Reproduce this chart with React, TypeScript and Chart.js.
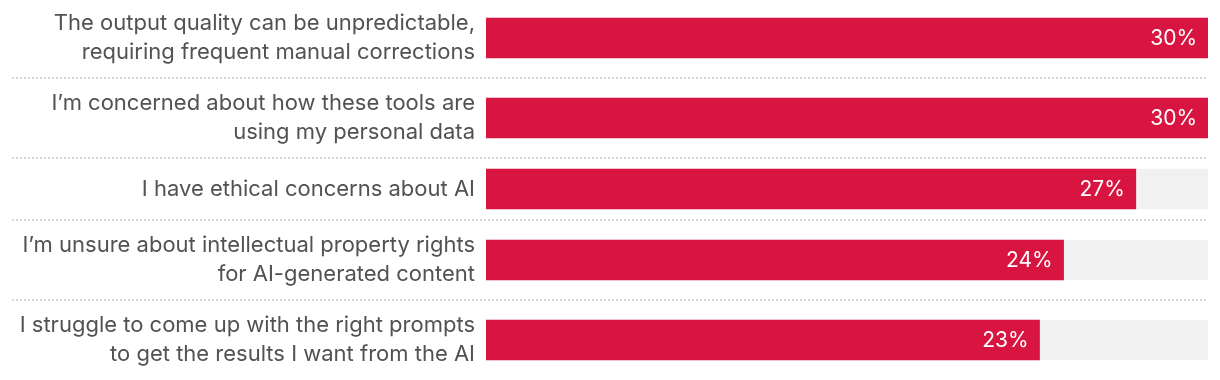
import React, { useEffect, useRef } from "react";
import { Chart, registerables } from "chart.js";

Chart.register(...registerables);

const categories: string[][] = [
  ["The output quality can be unpredictable,", "requiring frequent manual corrections"],
  ["I’m concerned about how these tools are", "using my personal data"],
  ["I have ethical concerns about AI"],
  ["I’m unsure about intellectual property rights", "for AI-generated content"],
  ["I struggle to come up with the right prompts", "to get the results I want from the AI"],
];
const values: number[] = [30, 30, 27, 24, 23];
const valueLabels: string[] = ["30%", "30%", "27%", "24%", "23%"];
const scaleMax = 30;

const BAR_COLOR = "#D81541";
const TRACK_COLOR = "#F1F1F1";
const TEXT_COLOR = "#525252";
const FONT = "Inter, 'Liberation Sans', Arial, sans-serif";

// row layout (in layout units = pixels): taller rows for two-line labels
const rowHeight = (lines: number) => 44 + 18 * lines;
const rowBounds: number[] = [];
const rowCenters: number[] = [];
{
  let acc = 0;
  categories.forEach((c) => {
    const h = rowHeight(c.length);
    rowCenters.push(acc + h / 2);
    acc += h;
    rowBounds.push(acc);
  });
}
const yMin = 2;
const yMax = rowBounds[rowBounds.length - 1];

const separatorPlugin = {
  id: "separators",
  beforeDatasetsDraw(chart: any) {
    const { ctx } = chart;
    const y = chart.scales.y;
    ctx.save();
    ctx.strokeStyle = "#D6D6D6";
    ctx.lineWidth = 2;
    ctx.setLineDash([2, 2]);
    for (let i = 0; i < rowBounds.length - 1; i++) {
      const py = Math.round(y.getPixelForValue(rowBounds[i]));
      ctx.beginPath();
      ctx.moveTo(12, py);
      ctx.lineTo(chart.chartArea.right, py);
      ctx.stroke();
    }
    ctx.restore();
  },
};

const valueLabelPlugin = {
  id: "valueLabels",
  afterDatasetsDraw(chart: any) {
    const { ctx } = chart;
    const meta = chart.getDatasetMeta(0);
    ctx.save();
    ctx.fillStyle = "#FFFFFF";
    ctx.font = `21px ${FONT}`;
    ctx.textAlign = "right";
    ctx.textBaseline = "middle";
    meta.data.forEach((bar: any, i: number) => {
      ctx.fillText(valueLabels[i], bar.x - 11, bar.y + 1);
    });
    ctx.restore();
  },
};

export default function App() {
  const ref = useRef<HTMLCanvasElement | null>(null);
  useEffect(() => {
    document.body.style.margin = "0";
    const canvas = ref.current!;
    const chart = new Chart(canvas, {
      type: "bar",
      data: {
        datasets: [
          {
            data: values.map((v, i) => ({ x: v, y: rowCenters[i] })),
            backgroundColor: BAR_COLOR,
            barThickness: 40,
            grouped: false,
            order: 1,
          } as any,
          {
            data: values.map((_, i) => ({ x: scaleMax, y: rowCenters[i] })),
            backgroundColor: TRACK_COLOR,
            barThickness: 40,
            grouped: false,
            order: 2,
          } as any,
        ],
      },
      options: {
        indexAxis: "y",
        animation: false,
        responsive: false,
        events: [],
        layout: { padding: { top: 0, bottom: 0, left: 0, right: 12 } },
        plugins: { legend: { display: false }, tooltip: { enabled: false } },
        scales: {
          x: { type: "linear", display: false, min: 0, max: scaleMax },
          y: {
            type: "linear",
            reverse: true,
            offset: false,
            min: yMin,
            max: yMax,
            border: { display: false },
            grid: { display: false, drawTicks: false, offset: false },
            afterBuildTicks: (scale: any) => {
              scale.ticks = rowCenters.map((v) => ({ value: v }));
            },
            afterFit: (scale: any) => {
              scale.width = 486;
              scale.paddingTop = 0;
              scale.paddingBottom = 0;
            },
            ticks: {
              autoSkip: false,
              padding: 11,
              color: TEXT_COLOR,
              font: { family: FONT, size: 22, lineHeight: 1.3 },
              callback: (_v: any, i: number) => categories[i],
            },
          } as any,
        },
      },
      plugins: [separatorPlugin, valueLabelPlugin],
    } as any);
    return () => chart.destroy();
  }, []);
  return (
    <div style={{ width: 1220, height: 380 }}>
      <canvas ref={ref} width={1220} height={380} />
    </div>
  );
}
